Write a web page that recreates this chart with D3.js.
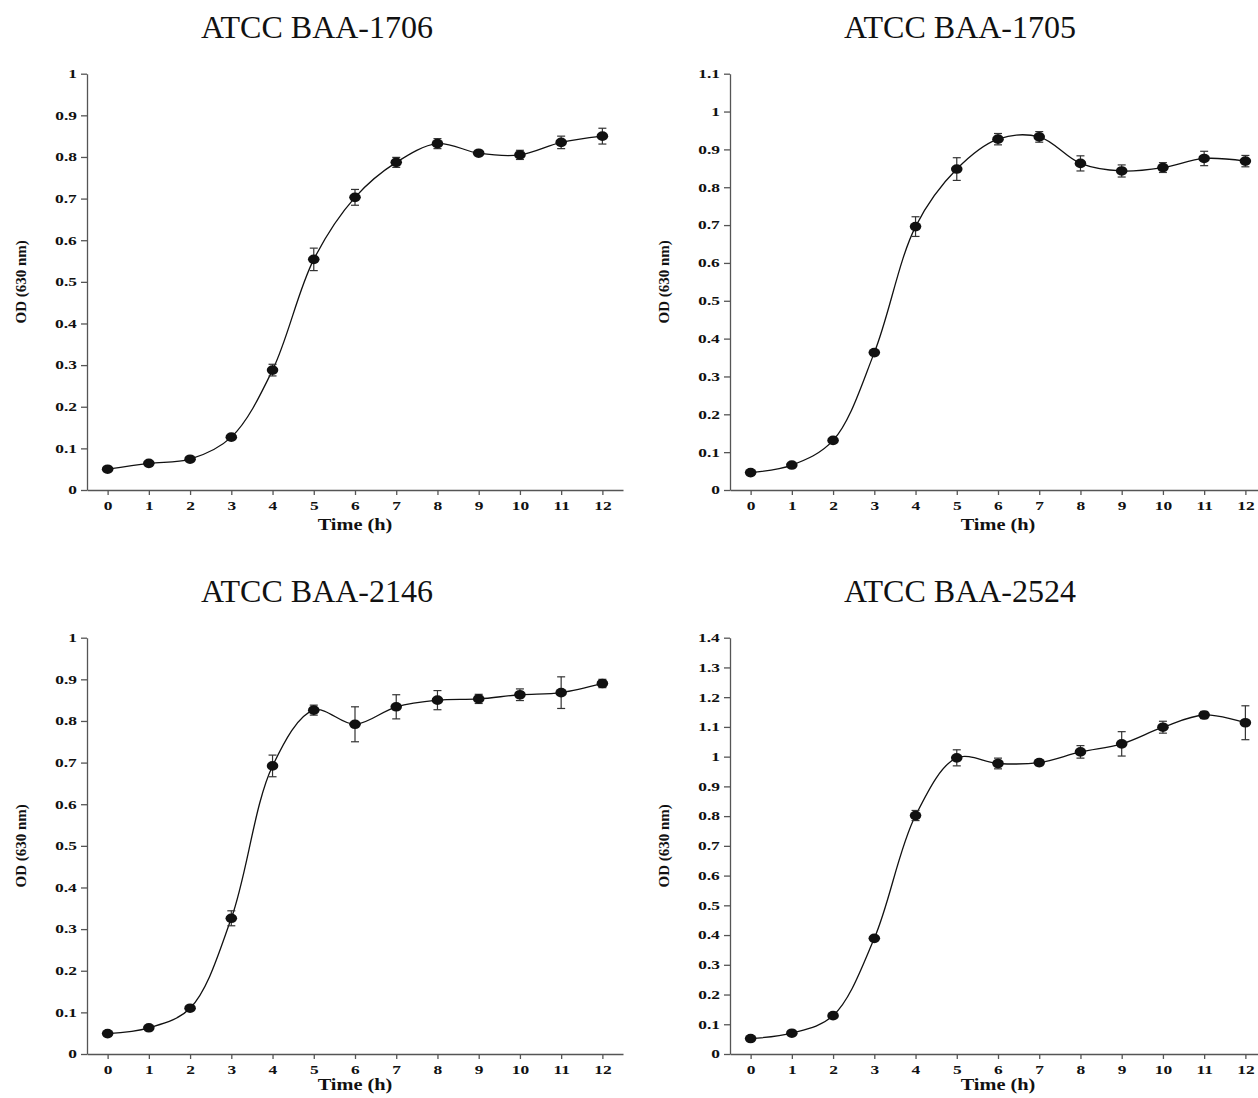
<!DOCTYPE html>
<html>
<head>
<meta charset="utf-8">
<script src="https://cdn.jsdelivr.net/npm/d3@7"></script>
<style>
  body { margin: 0; background: #fff; }
  svg { display: block; font-family: "Liberation Serif", "Times New Roman", serif; }
  .axis path, .axis line { stroke: #555; stroke-width: 1.3px; fill: none; }
  .axis text { font-family: "Liberation Serif", "Times New Roman", serif; font-weight: bold; font-size: 12px; fill: #111; transform-box: fill-box; }
  .x.axis text { transform: scaleX(1.45); transform-origin: 50% 50%; }
  .y.axis text { transform: scaleX(1.45); transform-origin: 100% 50%; }
  .line { stroke: #111; stroke-width: 1.3px; fill: none; }
  .err { stroke: #333; stroke-width: 1.2px; }
  .dot { fill: #111; }
  .title { font-size: 32px; fill: #111; }
  .xlabel { font-weight: bold; font-size: 16px; fill: #111; transform-box: fill-box; transform: scaleX(1.27); transform-origin: 50% 50%; }
  .ylabel { font-weight: bold; font-size: 15px; fill: #111; }
</style>
</head>
<body>
<div id="chart"></div>
<script>
const hours = [0, 1, 2, 3, 4, 5, 6, 7, 8, 9, 10, 11, 12];
const titles = ['ATCC BAA-1706', 'ATCC BAA-1705', 'ATCC BAA-2146', 'ATCC BAA-2524'];
const yMaxes = [1, 1.1, 1, 1.4];

const od1706 = [0.050, 0.064, 0.074, 0.127, 0.288, 0.554, 0.703, 0.787, 0.832, 0.809, 0.805, 0.835, 0.850];
const err1706 = [0.005, 0.005, 0.005, 0.005, 0.014, 0.027, 0.019, 0.012, 0.012, 0.005, 0.011, 0.015, 0.019];

const od1705 = [0.046, 0.066, 0.131, 0.363, 0.696, 0.848, 0.927, 0.933, 0.863, 0.843, 0.852, 0.876, 0.869];
const err1705 = [0.004, 0.004, 0.005, 0.005, 0.026, 0.030, 0.015, 0.014, 0.020, 0.016, 0.013, 0.019, 0.015];

const od2146 = [0.049, 0.063, 0.110, 0.326, 0.692, 0.826, 0.792, 0.834, 0.850, 0.853, 0.863, 0.868, 0.890];
const err2146 = [0.004, 0.004, 0.005, 0.018, 0.026, 0.012, 0.042, 0.029, 0.023, 0.011, 0.014, 0.038, 0.010];

const od2524 = [0.052, 0.070, 0.129, 0.389, 0.802, 0.996, 0.977, 0.980, 1.016, 1.043, 1.099, 1.140, 1.114];
const err2524 = [0.005, 0.005, 0.005, 0.006, 0.017, 0.027, 0.018, 0.010, 0.021, 0.041, 0.020, 0.012, 0.057];

const seriesList = [od1706, od1705, od2146, od2524];
const errList = [err1706, err1705, err2146, err2524];

const W = 1258, H = 1098;
const panelDx = 643, panelDy = 564;
const margin = { top: 73.7, left: 87 };
const plotW = 536, plotH = 416.3;

const svg = d3.select('#chart').append('svg')
  .attr('width', W)
  .attr('height', H);

titles.forEach((title, i) => {
  const row = Math.floor(i / 2);
  const ox = (i % 2) * panelDx, oy = row * panelDy;
  const g = svg.append('g').attr('transform', `translate(${ox},${oy})`);

  const x = d3.scaleLinear().domain([-0.5, 12.5]).range([margin.left, margin.left + plotW]);
  const y = d3.scaleLinear().domain([0, yMaxes[i]]).range([margin.top + plotH, margin.top]);

  const yTicks = d3.range(0, Math.round(yMaxes[i] * 10) + 1).map((k) => k / 10);

  g.append('g')
    .attr('class', 'x axis')
    .attr('transform', `translate(0,${margin.top + plotH})`)
    .call(d3.axisBottom(x).tickValues(hours).tickFormat(d3.format('d')).tickSize(5).tickSizeOuter(0).tickPadding(6));

  g.append('g')
    .attr('class', 'y axis')
    .attr('transform', `translate(${margin.left},0)`)
    .call(d3.axisLeft(y).tickValues(yTicks).tickFormat((d) => String(+d.toFixed(1))).tickSize(6).tickSizeOuter(0).tickPadding(4));

  // title
  g.append('text')
    .attr('class', 'title')
    .attr('x', margin.left + 230)
    .attr('y', 38)
    .attr('text-anchor', 'middle')
    .text(title);

  g.append('text')
    .attr('class', 'xlabel')
    .attr('x', margin.left + plotW / 2)
    .attr('y', margin.top + plotH + (row === 0 ? 40 : 36))
    .attr('text-anchor', 'middle')
    .text('Time (h)');

  g.append('text')
    .attr('class', 'ylabel')
    .attr('transform', `translate(${margin.left - 61},${margin.top + plotH / 2}) rotate(-90)`)
    .attr('text-anchor', 'middle')
    .text('OD (630 nm)');

  const data = hours.map((h, k) => ({ t: h, v: seriesList[i][k], e: errList[i][k] }));

  const line = d3.line()
    .x((d) => x(d.t))
    .y((d) => y(d.v))
    .curve(d3.curveCatmullRom.alpha(0.5));

  g.append('path').datum(data).attr('class', 'line').attr('d', line);

  // error bars
  const eb = g.append('g').selectAll('g').data(data).join('g');
  eb.append('line').attr('class', 'err')
    .attr('x1', (d) => x(d.t)).attr('x2', (d) => x(d.t))
    .attr('y1', (d) => y(d.v - d.e)).attr('y2', (d) => y(d.v + d.e));
  eb.append('line').attr('class', 'err')
    .attr('x1', (d) => x(d.t) - 4).attr('x2', (d) => x(d.t) + 4)
    .attr('y1', (d) => y(d.v + d.e)).attr('y2', (d) => y(d.v + d.e));
  eb.append('line').attr('class', 'err')
    .attr('x1', (d) => x(d.t) - 4).attr('x2', (d) => x(d.t) + 4)
    .attr('y1', (d) => y(d.v - d.e)).attr('y2', (d) => y(d.v - d.e));

  g.append('g').selectAll('ellipse').data(data).join('ellipse')
    .attr('class', 'dot')
    .attr('cx', (d) => x(d.t))
    .attr('cy', (d) => y(d.v))
    .attr('rx', 5.8)
    .attr('ry', 4.8);
});
</script>
</body>
</html>
